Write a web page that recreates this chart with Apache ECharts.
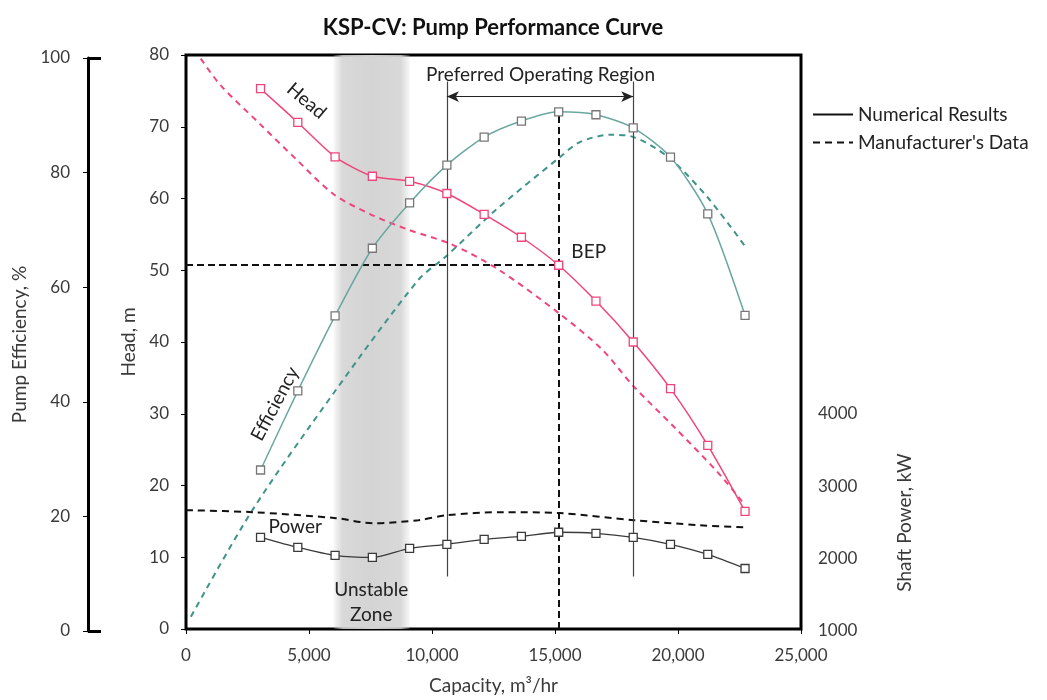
<!DOCTYPE html>
<html><head><meta charset="utf-8">
<script src="https://cdn.jsdelivr.net/npm/echarts@6/dist/echarts.min.js"></script>
<style>html,body{margin:0;padding:0;background:#fff}#c{width:1047px;height:700px}</style>
</head><body><div id="c"></div>
<script>
// ---- data ----
const capacity = [3030, 4545, 6060, 7575, 9090, 10605, 12120, 13635, 15150, 16665, 18180, 19695, 21210, 22725];
const headNum  = [75.3, 70.6, 65.8, 63.1, 62.4, 60.7, 57.8, 54.6, 50.7, 45.7, 40.0, 33.5, 25.6, 16.4];
const effNum   = [28.1, 41.9, 55.0, 66.8, 74.7, 81.3, 86.2, 89.0, 90.6, 90.1, 87.8, 82.7, 72.8, 55.1];
const powerNum = [2295, 2156, 2045, 2017, 2142, 2198, 2267, 2309, 2365, 2351, 2295, 2198, 2058, 1864];

const headMfrCap = [600, 1400, 3000, 4500, 6000, 7500, 9000, 10800, 12700, 15200, 16900, 18200, 19800, 21600, 22600];
const headMfr    = [79.5, 75.8, 70.4, 65.4, 60.6, 57.8, 55.7, 53.6, 50.1, 43.9, 39.0, 33.8, 28.3, 21.9, 17.8];
const effMfrCap  = [200, 2700, 6100, 9450, 10550, 12600, 15200, 16000, 17250, 18200, 19600, 21200, 22750];
const effMfr     = [2.5, 21.1, 42.1, 61.3, 65.3, 73.5, 82.7, 85.3, 86.6, 86.2, 82.7, 75.7, 67.0];
const powMfrCap  = [0, 2700, 6100, 7600, 9450, 10600, 12900, 15200, 18200, 20900, 22650];
const powMfr     = [2670, 2643, 2560, 2490, 2532, 2600, 2643, 2630, 2532, 2462, 2434];

const unstableZone = [6000, 9100];          // capacity range
const porBounds = [10605, 18180];           // preferred operating region
const porHeadRange = [7.3, 76.3];           // vertical extent (head units)
const porArrowHead = 74.2;
const bep = {capacity: 15150, head: 50.8, topHead: 72.1};

const xTicks = {min: 0, max: 25000, interval: 5000};
const headTicks = {min: 0, max: 80, interval: 10};
const effTicks = {min: 0, max: 100, interval: 20};
const powTicks = {min: 1000, max: 4000, interval: 1000};

const FONT = 'Lato';
const TICK_FS = 17, NAME_FS = 19;
const pink = '#f0457a', teal = '#3f948a', effLine = '#6aa7a0', dark = '#3a3a3a', txt = '#3a3a3a';

const zip = (a, b) => a.map((v, i) => [v, b[i]]);

const chart = echarts.init(document.getElementById('c'));
const G = {left: 186, right: 246, bottom: 69};
const baseX = (i, show) => ({
  type: 'value', gridIndex: i, min: xTicks.min, max: xTicks.max, interval: xTicks.interval,
  show: show,
  axisLine: {show: false}, splitLine: {show: false},
  axisTick: {show: show, length: 5, lineStyle: {color: '#000'}},
  axisLabel: {show: show, fontFamily: FONT, fontSize: TICK_FS, color: txt, margin: 18,
    formatter: v => v.toLocaleString('en-US')},
  name: show ? 'Capacity, m³/hr' : '', nameLocation: 'middle', nameGap: 47,
  nameTextStyle: {fontFamily: FONT, fontSize: NAME_FS, color: txt}
});

chart.setOption({
  animation: false,
  title: {text: 'KSP-CV: Pump Performance Curve', left: 488, top: 12, textAlign: 'center',
    textStyle: {fontFamily: FONT, fontWeight: 'bold', fontSize: 22, color: '#111'}},
  legend: {orient: 'vertical', left: 807, top: 100, itemWidth: 40, itemHeight: 10, itemGap: 9,
    itemStyle: {opacity: 0},
    textStyle: {fontFamily: FONT, fontSize: 19, color: '#222'},
    data: ['Numerical Results', "Manufacturer's Data"]},
  grid: [
    Object.assign({top: 55, show: true, borderColor: '#000', borderWidth: 3, backgroundColor: 'transparent'}, G),
    Object.assign({top: 58}, G),
    Object.assign({top: 414}, G)
  ],
  xAxis: [baseX(0, true), baseX(1, false), baseX(2, false)],
  yAxis: [
    {type: 'value', gridIndex: 0, position: 'left', min: headTicks.min, max: headTicks.max, interval: headTicks.interval,
      axisLine: {show: false, onZero: false}, splitLine: {show: false},
      axisTick: {show: true, length: 5, lineStyle: {color: '#000'}},
      axisLabel: {fontFamily: FONT, fontSize: TICK_FS, color: txt, margin: 17},
      name: 'Head, m', nameLocation: 'middle', nameGap: 46, nameRotate: 90,
      nameTextStyle: {fontFamily: FONT, fontSize: NAME_FS, color: txt}},
    {type: 'value', gridIndex: 1, position: 'left', offset: 98, min: effTicks.min, max: effTicks.max, interval: effTicks.interval,
      axisLine: {show: true, onZero: false, lineStyle: {color: '#000', width: 3}}, splitLine: {show: false},
      axisTick: {show: true, length: 5, lineStyle: {color: '#000', width: 1}},
      axisLabel: {fontFamily: FONT, fontSize: TICK_FS, color: txt, margin: 18},
      name: 'Pump Efficiency, %', nameLocation: 'middle', nameGap: 48, nameRotate: 90,
      nameTextStyle: {fontFamily: FONT, fontSize: NAME_FS, color: txt}},
    {type: 'value', gridIndex: 1, position: 'left', offset: 98, min: effTicks.min, max: effTicks.max, interval: effTicks.max,
      axisLine: {show: false, onZero: false}, splitLine: {show: false}, axisLabel: {show: false},
      axisTick: {show: true, inside: true, length: 13, lineStyle: {color: '#000', width: 3}}},
    {type: 'value', gridIndex: 2, position: 'right', min: powTicks.min, max: powTicks.max, interval: powTicks.interval,
      axisLine: {show: false, onZero: false}, splitLine: {show: false}, axisTick: {show: false},
      axisLabel: {fontFamily: FONT, fontSize: TICK_FS, color: txt, margin: 17, formatter: v => String(v)},
      name: 'Shaft Power, kW', nameLocation: 'middle', nameGap: 94, nameRotate: 90,
      nameTextStyle: {fontFamily: FONT, fontSize: NAME_FS, color: txt}}
  ],
  series: [
    // unstable zone band + POR + BEP guide lines (head coordinates)
    {type: 'line', xAxisIndex: 0, yAxisIndex: 0, data: [], silent: true, z: 1,
      markArea: {silent: true, itemStyle: {color: new echarts.graphic.LinearGradient(0, 0, 1, 0, [
          {offset: 0, color: 'rgba(210,210,210,0.15)'}, {offset: 0.12, color: 'rgba(210,210,210,0.85)'},
          {offset: 0.5, color: 'rgba(212,212,212,1)'}, {offset: 0.88, color: 'rgba(210,210,210,0.85)'},
          {offset: 1, color: 'rgba(210,210,210,0.15)'}])},
        data: [[{xAxis: unstableZone[0]}, {xAxis: unstableZone[1]}]]}},
    {type: 'line', xAxisIndex: 0, yAxisIndex: 0, data: [], silent: true, z: 3,
      markLine: {silent: true, symbol: 'none', label: {show: false},
        lineStyle: {color: '#444', width: 1.2, type: 'solid'},
        data: [
          [{coord: [porBounds[0], porHeadRange[0]]}, {coord: [porBounds[0], porHeadRange[1]]}],
          [{coord: [porBounds[1], porHeadRange[0]]}, {coord: [porBounds[1], porHeadRange[1]]}]
        ]}},
    {type: 'line', xAxisIndex: 0, yAxisIndex: 0, data: [], silent: true, z: 3,
      markLine: {silent: true, symbol: ['arrow', 'arrow'], symbolSize: [8, 12], label: {show: false},
        lineStyle: {color: '#222', width: 1.2, type: 'solid'},
        data: [[{coord: [porBounds[0], porArrowHead]}, {coord: [porBounds[1], porArrowHead]}]]}},
    {type: 'line', xAxisIndex: 0, yAxisIndex: 0, data: [], silent: true, z: 6,
      markLine: {silent: true, symbol: 'none', label: {show: false},
        lineStyle: {color: '#111', width: 2, type: [7, 4]},
        data: [
          [{coord: [xTicks.min, bep.head]}, {coord: [bep.capacity, bep.head]}],
          [{coord: [bep.capacity, headTicks.min]}, {coord: [bep.capacity, bep.topHead]}]
        ]}},
    // manufacturer's data (dashed)
    {name: 'mfrHead', type: 'line', xAxisIndex: 0, yAxisIndex: 0, data: zip(headMfrCap, headMfr),
      smooth: 0.3, symbol: 'none', lineStyle: {color: pink, width: 2, type: [6, 5]}, z: 4},
    {name: 'mfrEff', type: 'line', xAxisIndex: 1, yAxisIndex: 1, data: zip(effMfrCap, effMfr),
      smooth: 0.3, symbol: 'none', lineStyle: {color: teal, width: 2, type: [6, 5]}, z: 4},
    {name: 'mfrPow', type: 'line', xAxisIndex: 2, yAxisIndex: 3, data: zip(powMfrCap, powMfr),
      smooth: 0.3, symbol: 'none', lineStyle: {color: '#111', width: 2, type: [7, 5]}, z: 4},
    // numerical results (solid with square markers)
    {name: 'numHead', type: 'line', xAxisIndex: 0, yAxisIndex: 0, data: zip(capacity, headNum),
      smooth: 0.25, symbol: 'rect', symbolSize: 8,
      lineStyle: {color: pink, width: 1.5}, itemStyle: {color: '#fff', borderColor: pink, borderWidth: 1.3}, z: 5},
    {name: 'numEff', type: 'line', xAxisIndex: 1, yAxisIndex: 1, data: zip(capacity, effNum),
      smooth: 0.25, symbol: 'rect', symbolSize: 8,
      lineStyle: {color: effLine, width: 1.5}, itemStyle: {color: '#fff', borderColor: '#777', borderWidth: 1.3}, z: 5},
    {name: 'numPow', type: 'line', xAxisIndex: 2, yAxisIndex: 3, data: zip(capacity, powerNum),
      smooth: 0.25, symbol: 'rect', symbolSize: 8,
      lineStyle: {color: dark, width: 1.3}, itemStyle: {color: '#fff', borderColor: dark, borderWidth: 1.3}, z: 5},
    // legend-only series
    {name: 'Numerical Results', type: 'line', data: [], symbol: 'none', lineStyle: {color: '#111', width: 2}, itemStyle: {color: '#111'}},
    {name: "Manufacturer's Data", type: 'line', data: [], symbol: 'none', lineStyle: {color: '#111', width: 2.5, type: [7, 5]}, itemStyle: {color: '#111'}}
  ]
});

// annotations anchored at data coordinates (head grid)
const annotations = [
  {text: 'Head', at: [4900, 73.6], rot: -40},
  {text: 'Efficiency', at: [3620, 31.4], rot: 62},
  {text: 'Power', at: [4440, 14.3], rot: 0},
  {text: 'Unstable', at: [7530, 5.5], rot: 0},
  {text: 'Zone', at: [7530, 2.0], rot: 0},
  {text: 'BEP', at: [16370, 52.5], rot: 0},
  {text: 'Preferred Operating Region', at: [14410, 77.2], rot: 0}
];
chart.setOption({graphic: annotations.map(a => {
  const p = chart.convertToPixel({gridIndex: 0}, a.at);
  return {type: 'text', x: p[0], y: p[1], rotation: a.rot * Math.PI / 180, z: 20,
    style: {text: a.text, fontFamily: FONT, fontSize: 19, fill: '#222', align: 'center', verticalAlign: 'middle'}};
})});
</script></body></html>
